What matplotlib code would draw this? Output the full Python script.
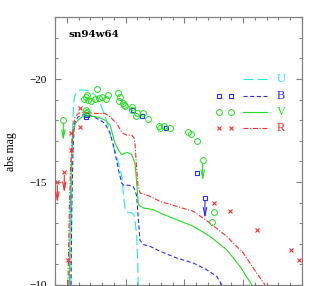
import matplotlib
matplotlib.use("Agg")
import matplotlib.pyplot as plt
from matplotlib.ticker import MultipleLocator, FixedLocator

plt.rcParams['lines.scale_dashes'] = False
plt.rcParams['font.family'] = ['Liberation Serif', 'DejaVu Serif']

# ---------------- data ----------------
title = "sn94w64"
bands = ["U", "B", "V", "R"]
colors = {"U": "#22e8e8", "B": "#2a2aff", "V": "#22dd22", "R": "#ff2a2a"}

# model light curves (days, abs mag)
U_t = [3.43, 3.6, 4.03, 4.45, 5.3, 6.15, 7.0, 8.7, 11.25, 14.65, 18.06, 21.46, 25.45, 28.26,
       29.96, 32.5, 35.9, 39.3, 42.46, 44.4, 46.71, 48.07, 49.5, 50.8, 55.2, 57.2, 58.0, 59.46,
       60.14, 60.82]
U_m = [-10.0, -11.21, -14.13, -16.55, -18.25, -18.98, -19.22, -19.39, -19.47, -19.47, -19.43,
       -19.37, -19.14, -18.83, -18.59, -18.20, -17.62, -16.80, -16.25, -15.83, -15.29, -14.47,
       -13.74, -13.54, -13.50, -13.40, -13.16, -12.38, -11.46, -10.0]

B_t = [3.6, 3.86, 4.45, 5.3, 6.15, 7.0, 9.55, 12.96, 16.36, 21.46, 28.26, 32.5, 36.76, 39.57,
       41.9, 44.4, 46.71, 48.66, 52.06, 56.3, 58.0, 59.46, 60.57, 62.27, 65.07, 70.77, 79.27,
       93.47, 107.58, 118.97, 127.47, 131.72, 133.0]
B_m = [-10.0, -11.70, -14.13, -16.55, -17.52, -17.91, -18.16, -18.25, -18.28, -18.20, -18.01,
       -17.85, -17.38, -16.81, -16.17, -15.49, -14.95, -14.83, -14.85, -14.79, -14.61, -14.32,
       -13.40, -12.18, -11.96, -11.88, -11.64, -11.31, -11.07, -10.74, -10.42, -10.01, -9.76]

V_t = [2.16, 2.58, 3.18, 4.03, 5.3, 7.0, 9.55, 12.96, 18.06, 24.0, 28.26, 32.5, 36.76, 41.0,
       43.82, 46.71, 49.5, 52.06, 55.2, 58.0, 59.46, 60.82, 65.07, 73.57, 79.27, 93.47, 107.58,
       121.78, 135.98, 147.28, 157.23, 158.3]
V_m = [-10.0, -11.70, -14.13, -16.07, -17.28, -17.82, -18.01, -18.16, -18.20, -18.18, -18.11,
       -18.01, -17.77, -16.89, -16.57, -16.33, -16.41, -16.43, -16.33, -15.92, -14.95, -13.90,
       -13.74, -13.66, -13.50, -13.17, -12.85, -12.36, -11.71, -10.91, -10.01, -9.76]

R_t = [1.05, 1.48, 2.16, 3.18, 4.45, 5.73, 7.0, 10.4, 14.65, 18.06, 25.45, 32.5, 36.76, 42.46,
       46.1, 48.07, 50.96, 55.2, 57.2, 58.0, 59.46, 60.57, 62.27, 70.77, 79.27, 93.47, 107.58,
       121.78, 135.98, 150.09, 161.48, 168.54, 169.4]
R_m = [-10.0, -11.46, -13.64, -15.58, -17.04, -17.77, -18.16, -18.35, -18.40, -18.36, -18.33,
       -18.33, -18.17, -17.85, -17.48, -17.36, -17.28, -17.28, -17.14, -16.89, -15.60, -14.85,
       -14.47, -14.31, -14.06, -13.82, -13.58, -13.01, -12.36, -11.55, -10.58, -10.01, -9.76]

# observed points
B_obs_t = [17.0, 16.4, 56.6, 64.2, 84.4, 110.5]
B_obs_m = [-18.25, -18.15, -18.50, -18.22, -17.61, -15.44]

V_obs_t = [16.4, 17.5, 14.7, 18.3, 20.4, 25.5, 24.0, 27.7, 29.7, 33.1, 35.3, 16.4, 17.0, 16.4,
           43.8, 45.3, 44.7, 47.6, 48.7, 49.8, 55.2, 55.2, 60.0, 58.9, 64.6, 69.3, 78.7, 79.3,
           82.9, 87.8, 103.3, 105.4, 110.5, 125.2, 123.2]
V_obs_m = [-19.14, -19.22, -19.01, -18.98, -18.95, -19.51, -19.03, -19.09, -19.14, -19.03,
           -19.22, -18.50, -18.41, -18.33, -19.33, -19.14, -18.95, -18.85, -18.74, -18.69,
           -18.66, -18.50, -18.33, -18.22, -18.33, -18.04, -17.73, -17.64, -17.73, -17.64,
           -17.44, -17.32, -17.00, -13.53, -13.04]

R_obs_t = [3.6, 11.25, 11.25, 3.6, 1.3, 125.2, 138.8, 161.5, 190.4, 197.7]
R_obs_m = [-17.39, -18.58, -17.68, -16.55, -11.23, -13.98, -13.58, -12.68, -11.68, -11.23]

# upper limits
B_lim_t = [117.5]
B_lim_m = [-14.22]
V_lim_t = [-2.9, 115.6]
V_lim_m = [-18.0, -16.05]
R_lim_t = [-2.1, -8.0]
R_lim_m = [-15.47, -14.99]

# ---------------- styling ----------------
dash = {"U": (0, (7.2, 2.9)), "B": (0, (3.0, 1.8)), "V": "-", "R": (0, (3.6, 1.2, 0.8, 1.2))}
mark = {"B": dict(marker="s", ms=2.5, mfc="none", mew=0.8),
        "V": dict(marker="o", ms=4.2, mfc="none", mew=0.7),
        "R": dict(marker="x", ms=2.5, mew=0.8)}

curves = {"U": (U_t, U_m), "B": (B_t, B_m), "V": (V_t, V_m), "R": (R_t, R_m)}
obs = {"B": (B_obs_t, B_obs_m), "V": (V_obs_t, V_obs_m), "R": (R_obs_t, R_obs_m)}
lims = {"B": (B_lim_t, B_lim_m), "V": (V_lim_t, V_lim_m), "R": (R_lim_t, R_lim_m)}
arrow_len = 1.0

fig = plt.figure(figsize=(3.19, 2.86), dpi=100)
ax = fig.add_axes([55 / 319, 1 / 286, 247 / 319, 267.7 / 286])
ax.set_xlim(-10, 200)
ax.set_ylim(-10, -23)

for b in bands:
    t, m = curves[b]
    ax.plot(t, m, color=colors[b], lw=0.8, linestyle=dash[b])
for b in ["B", "V", "R"]:
    t, m = obs[b]
    ax.plot(t, m, linestyle="none", color=colors[b], **mark[b])
    lt, lm = lims[b]
    ax.plot(lt, lm, linestyle="none", color=colors[b], **mark[b])
    for x, y in zip(lt, lm):
        ax.annotate("", xy=(x, y + arrow_len), xytext=(x, y),
                    arrowprops=dict(arrowstyle="->,head_length=0.6,head_width=0.12",
                                    color=colors[b], lw=0.8, shrinkA=2, shrinkB=0))

# legend (drawn in axes coordinates)
leg_y = [0.7695, 0.707, 0.647, 0.5876]
for b, yy in zip(bands, leg_y):
    ax.plot([0.762, 0.857], [yy, yy], transform=ax.transAxes, color=colors[b], lw=0.8,
            linestyle=dash[b])
    if b in mark:
        ax.plot([0.665, 0.7125], [yy, yy], transform=ax.transAxes, linestyle="none",
                color=colors[b], **mark[b])
    ax.text(0.915, yy, b, transform=ax.transAxes, color=colors[b], fontsize=9,
            ha="center", va="center")

ax.text(0.054, 0.934, title, transform=ax.transAxes, fontsize=7.5, fontweight="bold",
        family=["DejaVu Serif"], ha="left", va="center")

# axes styling
spine_c = "#808080"
for s in ax.spines.values():
    s.set_color(spine_c)
    s.set_linewidth(0.9)
ax.xaxis.set_major_locator(MultipleLocator(50))
ax.xaxis.set_minor_locator(MultipleLocator(10))
ax.yaxis.set_major_locator(FixedLocator([-10, -15, -20]))
ax.yaxis.set_minor_locator(MultipleLocator(1))
ax.tick_params(which="both", direction="in", top=True, right=True, bottom=True, left=True,
               color=spine_c, width=0.8, labelbottom=False, labelsize=8, pad=6)
ax.tick_params(which="major", length=4.5)
ax.tick_params(which="minor", length=2.5)
ax.set_ylabel("abs mag", fontsize=8.5)
ax.yaxis.set_label_coords(-0.154, 0.5)

fig.savefig("out.png", dpi=100)
